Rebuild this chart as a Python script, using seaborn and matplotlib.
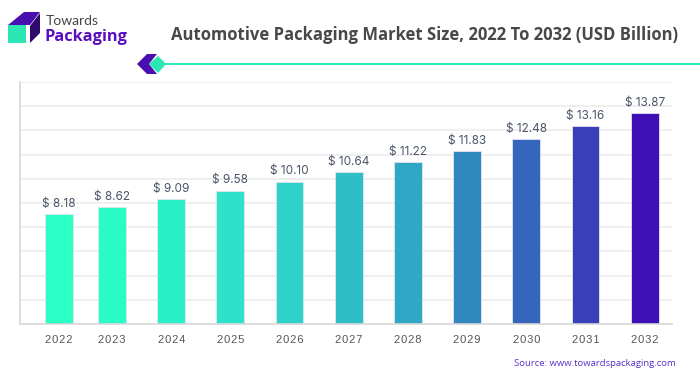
import matplotlib
matplotlib.use('Agg')
import matplotlib.pyplot as plt
from matplotlib.patches import Polygon, Rectangle
import pandas as pd
import seaborn as sns

years = ['2022', '2023', '2024', '2025', '2026', '2027', '2028', '2029', '2030', '2031', '2032']
market_size = [8.18, 8.62, 9.09, 9.58, 10.10, 10.64, 11.22, 11.83, 12.48, 13.16, 13.87]
bar_colors = ['#2affc6', '#2bfcc7', '#2af0c8', '#2ce2c8', '#2dd2c8', '#2ebfc6', '#30a7c4',
              '#3088be', '#3566be', '#3a40b8', '#3f10b5']

TEAL = '#2ce6b4'
PURPLE = '#4a0fb0'
DARK_PURPLE = '#2e0a6e'

# the bars in the original grow faster than their labels, a mild power scale fits them
POWER = 1.24
Y_MAX = 15.49


def px_poly(fig, points, color):
    # points are in image pixels, top left origin
    w, h = 700, 375
    xy = [(x / w, 1 - y / h) for x, y in points]
    fig.add_artist(Polygon(xy, closed=True, color=color, lw=0, transform=fig.transFigure))


def draw_header(fig):
    px_poly(fig, [(8, 25), (24, 12), (40, 12), (30, 25)], PURPLE)
    px_poly(fig, [(30, 26), (40, 13), (40, 33), (30, 43)], DARK_PURPLE)
    px_poly(fig, [(8, 25), (26, 25), (26, 43), (8, 43)], TEAL)
    fig.text(46 / 700, 1 - 21 / 375, 'Towards', fontsize=10, color='#444444',
             family='Lato', va='center')
    fig.text(45 / 700, 1 - 37 / 375, 'Packaging', fontsize=11.8, color='#5a10c0',
             family='Open Sans', weight='bold', va='center')
    fig.text(424.5 / 700, 1 - 35 / 375, 'Automotive Packaging Market Size, 2022 To 2032 (USD Billion)',
             fontsize=11.95, color='#484848', family='Open Sans', weight='bold',
             ha='center', va='center')
    fig.add_artist(Rectangle((160 / 700, 1 - 65 / 375), 540 / 700, 2 / 375, color=TEAL, lw=0,
                             transform=fig.transFigure))
    px_poly(fig, [(137, 64), (147, 54), (157, 54), (149, 64), (157, 74), (147, 74)], PURPLE)
    px_poly(fig, [(149, 64), (158, 56), (166, 64), (158, 73)], TEAL)


def main():
    df = pd.DataFrame({'year': years, 'size': market_size})
    sns.set_theme(style='white')
    fig = plt.figure(figsize=(7, 3.75), dpi=100)
    ax = fig.add_axes([20 / 700, 1 - 324 / 375, 652 / 700, 242 / 375])
    sns.barplot(ax=ax, data=df, x='year', y='size', hue='year', palette=bar_colors,
                legend=False, width=0.47, saturation=1, edgecolor='#e4e4f0', linewidth=0.6)
    ax.set_yscale('function', functions=(lambda v: v ** POWER, lambda t: t ** (1 / POWER)))
    ax.set_xlim(-0.554, 10.46)
    ax.set_ylim(0, Y_MAX)

    # first bar sits a little closer to the second one in the original
    first_shift = 0.105
    ax.patches[0].set_x(ax.patches[0].get_x() + first_shift)
    centers = [i + first_shift if i == 0 else i for i in range(len(years))]

    top = Y_MAX ** POWER
    ax.set_yticks([(top * i / 10) ** (1 / POWER) for i in range(11)])
    ax.set_yticklabels([])
    ax.minorticks_off()
    ax.set_xlabel('')
    ax.set_ylabel('')
    ax.set_axisbelow(True)
    ax.grid(axis='y', color='#ececec', lw=1.2)
    ax.grid(axis='x', visible=False)
    for side in ['top', 'right']:
        ax.spines[side].set_visible(False)
    for side in ['left', 'bottom']:
        ax.spines[side].set_color('#d8d8d8')
        ax.spines[side].set_linewidth(1.2)

    # hair spaces give the letter spacing of the original tick labels
    ax.set_xticks(centers)
    ax.set_xticklabels(['\u200a'.join(y) for y in years], fontsize=8, color='#555555',
                       family=['Liberation Sans', 'DejaVu Sans'])
    ax.tick_params(axis='both', length=0)
    ax.tick_params(axis='x', pad=8)

    for x, value in zip(centers, market_size):
        ax.annotate(f'$ {value:.2f}', (x, value), xytext=(0, 3), textcoords='offset points',
                    ha='center', va='bottom', fontsize=8.5, color='#4a5568', family='Inter')

    draw_header(fig)
    fig.text(1 - 24 / 700, 1 - 364 / 375, 'Source: www.towardspackaging.com', fontsize=6.8,
             color='#5b2fc9', family='Open Sans', ha='right', va='center')
    fig.savefig('out.png', dpi=100)


if __name__ == "__main__":
    main()
